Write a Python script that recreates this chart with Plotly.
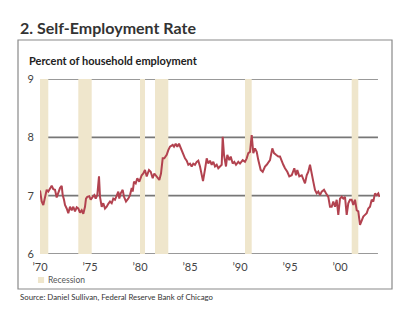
import plotly.graph_objects as go

# Self-employment as a share of household employment (percent)
years = [
    1970.00, 1970.17, 1970.33, 1970.50, 1970.67, 1970.83, 1971.00, 1971.17, 1971.33, 1971.50,
    1971.67, 1971.83, 1972.00, 1972.17, 1972.27, 1972.40, 1972.50, 1972.67, 1972.83, 1973.00,
    1973.17, 1973.33, 1973.50, 1973.67, 1973.83, 1974.00, 1974.17, 1974.33, 1974.50, 1974.60,
    1974.73, 1974.93, 1975.07, 1975.27, 1975.43, 1975.57, 1975.73, 1975.90, 1976.00, 1976.17,
    1976.33, 1976.50, 1976.67, 1976.83, 1977.00, 1977.17, 1977.33, 1977.50, 1977.67, 1977.83,
    1977.93, 1978.07, 1978.27, 1978.40, 1978.60, 1978.83, 1979.00, 1979.17, 1979.27, 1979.40,
    1979.57, 1979.73, 1979.93, 1980.17, 1980.33, 1980.50, 1980.67, 1980.90, 1981.07, 1981.27,
    1981.43, 1981.67, 1981.93, 1982.10, 1982.27, 1982.43, 1982.67, 1982.83, 1983.00, 1983.27,
    1983.40, 1983.57, 1983.73, 1983.90, 1984.17, 1984.27, 1984.50, 1984.67, 1984.83, 1985.00,
    1985.17, 1985.33, 1985.50, 1985.67, 1985.83, 1986.00, 1986.17, 1986.30, 1986.50, 1986.67,
    1986.83, 1987.00, 1987.17, 1987.33, 1987.50, 1987.67, 1987.83, 1988.00, 1988.17, 1988.27,
    1988.40, 1988.60, 1988.73, 1988.93, 1989.07, 1989.27, 1989.43, 1989.60, 1989.83, 1990.00,
    1990.27, 1990.50, 1990.67, 1990.83, 1991.00, 1991.17, 1991.33, 1991.50, 1991.67, 1991.83,
    1992.07, 1992.27, 1992.50, 1992.67, 1992.83, 1993.00, 1993.23, 1993.40, 1993.60, 1993.83,
    1994.00, 1994.17, 1994.33, 1994.50, 1994.73, 1994.93, 1995.17, 1995.43, 1995.60, 1995.73,
    1995.93, 1996.17, 1996.33, 1996.50, 1996.67, 1996.83, 1997.00, 1997.17, 1997.33, 1997.50,
    1997.67, 1997.83, 1998.00, 1998.17, 1998.40, 1998.60, 1998.83, 1999.00, 1999.17, 1999.33,
    1999.50, 1999.67, 1999.83, 2000.00, 2000.17, 2000.33, 2000.50, 2000.67, 2000.83, 2001.00,
    2001.17, 2001.33, 2001.50, 2001.67, 2001.83, 2002.00, 2002.17, 2002.33, 2002.50, 2002.67,
    2002.83, 2003.00, 2003.17, 2003.33, 2003.50, 2003.67, 2003.83, 2003.95,
]
rate = [
    7.09, 6.90, 6.84, 6.98, 7.10, 7.07, 7.13, 7.17, 7.11, 7.10,
    6.97, 7.07, 7.13, 7.17, 7.01, 6.93, 6.84, 6.78, 6.70, 6.81,
    6.75, 6.81, 6.73, 6.80, 6.78, 6.71, 6.75, 6.69, 6.81, 6.95,
    6.98, 6.99, 6.93, 6.98, 7.01, 6.95, 7.01, 7.33, 6.98, 6.81,
    6.87, 6.78, 6.81, 6.86, 6.90, 6.87, 6.95, 6.93, 7.01, 7.07,
    6.95, 7.04, 7.10, 6.98, 6.90, 6.95, 7.01, 7.13, 7.07, 7.24,
    7.21, 7.30, 7.24, 7.35, 7.38, 7.44, 7.33, 7.44, 7.41, 7.30,
    7.38, 7.33, 7.27, 7.38, 7.64, 7.64, 7.70, 7.78, 7.84, 7.87,
    7.84, 7.89, 7.84, 7.89, 7.77, 7.73, 7.64, 7.60, 7.53, 7.55,
    7.50, 7.55, 7.53, 7.58, 7.60, 7.50, 7.38, 7.25, 7.45, 7.64,
    7.55, 7.60, 7.53, 7.58, 7.50, 7.53, 7.47, 7.50, 7.53, 8.01,
    7.70, 7.50, 7.70, 7.61, 7.67, 7.55, 7.58, 7.53, 7.58, 7.55,
    7.61, 7.58, 7.64, 7.73, 7.75, 8.04, 7.73, 7.81, 7.75, 7.61,
    7.44, 7.41, 7.50, 7.53, 7.58, 7.61, 7.81, 7.73, 7.70, 7.67,
    7.67, 7.58, 7.53, 7.47, 7.41, 7.33, 7.35, 7.47, 7.35, 7.44,
    7.33, 7.35, 7.27, 7.21, 7.35, 7.41, 7.53, 7.35, 7.24, 7.10,
    7.04, 7.07, 7.01, 7.07, 7.10, 7.04, 6.98, 6.81, 6.81, 6.90,
    6.81, 6.93, 6.67, 6.95, 6.98, 6.95, 6.98, 6.67, 6.87, 6.93,
    6.93, 6.84, 6.93, 6.75, 6.73, 6.50, 6.58, 6.64, 6.67, 6.70,
    6.78, 6.81, 6.93, 6.90, 7.04, 7.01, 7.04, 6.98,
]

# NBER recession periods (start, end)
recession_start = [1969.92, 1973.83, 1980.00, 1981.50, 1990.50, 2001.17]
recession_end = [1970.83, 1975.17, 1980.50, 1982.83, 1991.17, 2001.83]

tick_years = [1970, 1975, 1980, 1985, 1990, 1995, 2000]
tick_text = ["’70", "’75", "’80", "’85", "’90", "’95", "’00"]
grid_levels = [6, 7, 8, 9]

X0, X1 = 1970, 2004
LINE_RED = "#b2424f"
SHADE = "#efe6cc"
GRID = "#777777"
TEXT = "#333333"
FONT = "Lato, Roboto, sans-serif"

fig = go.Figure()
fig.add_trace(go.Scatter(
    x=years, y=rate, mode="lines",
    line=dict(color=LINE_RED, width=2),
    hoverinfo="skip", showlegend=False,
))

shapes = []
for s, e in zip(recession_start, recession_end):
    shapes.append(dict(
        type="rect", xref="x", yref="y", x0=max(s, X0), x1=e, y0=6, y1=9,
        fillcolor=SHADE, line=dict(width=0), layer="below",
    ))
for lv in grid_levels:
    shapes.append(dict(
        type="line", xref="paper", yref="y", x0=0, x1=0.994, y0=lv, y1=lv,
        line=dict(color=GRID, width=1.6), layer="below",
    ))
# outer frame around the chart panel
shapes.append(dict(
    type="rect", xref="paper", yref="paper",
    x0=-0.0647, x1=1.0353, y0=-0.2, y1=1.2229,
    line=dict(color="#8a8a8a", width=1.2), fillcolor="rgba(0,0,0,0)", layer="below",
))
# recession legend swatch
shapes.append(dict(
    type="rect", xref="paper", yref="paper",
    x0=-0.006, x1=0.012, y0=-0.1657, y1=-0.1314,
    fillcolor=SHADE, line=dict(width=0),
))

annotations = [
    dict(text="<b>2. Self-Employment Rate</b>", xref="paper", yref="paper",
         x=-0.0647, y=1.297, xanchor="left", yanchor="middle", showarrow=False,
         font=dict(family=FONT, size=16, color=TEXT)),
    dict(text="<b>Percent of household employment</b>", xref="paper", yref="paper",
         x=-0.039, y=1.103, xanchor="left", yanchor="middle", showarrow=False,
         font=dict(family=FONT, size=11, color="#222222")),
    dict(text="Recession", xref="paper", yref="paper",
         x=0.019, y=-0.1486, xanchor="left", yanchor="middle", showarrow=False,
         font=dict(family=FONT, size=8.5, color="#555555")),
    dict(text="Source: Daniel Sullivan, Federal Reserve Bank of Chicago", xref="paper", yref="paper",
         x=-0.0647, y=-0.2457, xanchor="left", yanchor="middle", showarrow=False,
         font=dict(family=FONT, size=7.8, color=TEXT)),
]

fig.update_layout(
    width=415, height=326,
    margin=dict(l=40, r=35, t=79, b=72),
    paper_bgcolor="white", plot_bgcolor="white",
    shapes=shapes, annotations=annotations,
    xaxis=dict(
        range=[X0, X1], tickvals=tick_years, ticktext=tick_text,
        showgrid=False, zeroline=False, showline=False, ticks="",
        ticklabelstandoff=5,
        tickfont=dict(family=FONT, size=11, color="#444444"),
        fixedrange=True,
    ),
    yaxis=dict(
        range=[6, 9], tickvals=grid_levels, showgrid=False, zeroline=False,
        showline=False, ticks="", ticklabelstandoff=5,
        tickfont=dict(family=FONT, size=11, color="#444444"),
        fixedrange=True,
    ),
)

fig.write_html("out.html")
